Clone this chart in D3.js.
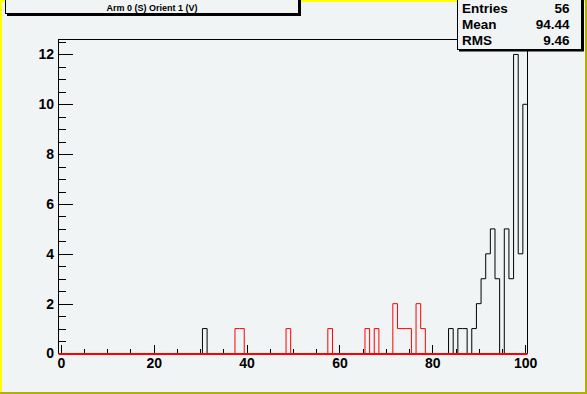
<!DOCTYPE html>
<html>
<head>
<meta charset="utf-8">
<script src="https://cdn.jsdelivr.net/npm/d3@7"></script>
<style>
  body { margin: 0; }
  svg text { font-family: "Liberation Sans", Arial, sans-serif; font-weight: bold; }
</style>
</head>
<body>
<div id="chart"></div>
<script>
// histogram contents, bin number (1 unit wide, centred on the integer) -> entries
var blackBin   = [31, 84, 86, 87, 89, 90, 91, 92, 93, 94, 96, 97, 98, 99, 100];
var blackCount = [1,  1,  1,  1,  1,  2,  3,  4,  5,  3,  5,  3,  12, 4,  10];
var redBin     = [38, 39, 49, 58, 66, 68, 72, 73, 74, 75, 77, 78];
var redCount   = [1,  1,  1,  1,  1,  1,  2,  1,  1,  1,  2,  1];

var xMajor = [0, 20, 40, 60, 80, 100];
var xMinor = [5, 10, 15, 25, 30, 35, 45, 50, 55, 65, 70, 75, 85, 90, 95];
var yMajor = [0, 2, 4, 6, 8, 10, 12];
var yMinor = [0.5, 1, 1.5, 2.5, 3, 3.5, 4.5, 5, 5.5, 6.5, 7, 7.5, 8.5, 9, 9.5, 10.5, 11, 11.5, 12.5];

var title = "Arm 0 (S) Orient 1 (V)";
var statNames  = ["Entries", "Mean", "RMS"];
var statValues = ["56", "94.44", "9.46"];

var W = 587, H = 394;
var bg = "#f1f4f5";

var svg = d3.select("#chart").append("svg")
    .attr("width", W)
    .attr("height", H);

// pad with bevelled border
svg.append("rect").attr("width", W).attr("height", H).attr("fill", "#b0b000");
svg.append("rect").attr("width", W - 2).attr("height", H - 2).attr("fill", "#ffff00");
svg.append("rect").attr("x", 2).attr("y", 2).attr("width", W - 4).attr("height", H - 4).attr("fill", bg);

var x = d3.scaleLinear().domain([-0.5, 100.5]).range([58.5, 527.5]);
var y = d3.scaleLinear().domain([0, 12.6]).range([353.5, 39.5]);

// frame
svg.append("rect")
    .attr("x", x(-0.5)).attr("y", y(12.6))
    .attr("width", x(100.5) - x(-0.5)).attr("height", y(0) - y(12.6))
    .attr("fill", "none").attr("stroke", "#000").attr("shape-rendering", "crispEdges");

// axes (ROOT style: ticks point inwards)
function noDomain(g) { g.select(".domain").remove(); }

var gx = svg.append("g").attr("transform", "translate(0," + y(0) + ")");
gx.append("g").call(d3.axisBottom(x).tickValues(xMinor).tickSize(-4.5).tickFormat("")).call(noDomain);
gx.append("g").call(d3.axisBottom(x).tickValues(xMajor).tickSize(-8.5).tickPadding(5).tickFormat(d3.format("d")))
    .call(noDomain)
    .selectAll("text").style("font-size", "14px").attr("fill", "#000");

var gy = svg.append("g").attr("transform", "translate(" + x(-0.5) + ",0)");
gy.append("g").call(d3.axisLeft(y).tickValues(yMinor).tickSize(-7).tickFormat("")).call(noDomain);
gy.append("g").call(d3.axisLeft(y).tickValues(yMajor).tickSize(-14).tickPadding(4.5).tickFormat(d3.format("d")))
    .call(noDomain)
    .selectAll("text").style("font-size", "14px").attr("fill", "#000");

svg.selectAll(".tick line").attr("stroke", "#000").attr("shape-rendering", "crispEdges");

// step outline of a histogram with 101 bins from -0.5 to 100.5
function steps(bins, counts) {
  var content = d3.range(0, 101).map(function() { return 0; });
  bins.forEach(function(b, i) { content[b] = counts[i]; });
  var pts = [[x(-0.5), y(0)]];
  content.forEach(function(v, i) {
    pts.push([x(i - 0.5), y(v)]);
    pts.push([x(i + 0.5), y(v)]);
  });
  pts.push([x(100.5), y(0)]);
  return pts;
}

var line = d3.line();

svg.append("path")
    .attr("d", line(steps(blackBin, blackCount)))
    .attr("fill", "none").attr("stroke", "#000").attr("stroke-width", 1);

svg.append("path")
    .attr("d", line(steps(redBin, redCount)))
    .attr("fill", "none").attr("stroke", "#ff0000").attr("stroke-width", 1);

// red zero line of the second histogram sits over the axis, 2px thick
svg.append("line")
    .attr("x1", x(-0.5)).attr("x2", x(100.5))
    .attr("y1", y(0) + 0.5).attr("y2", y(0) + 0.5)
    .attr("stroke", "#ff0000").attr("stroke-width", 2);

// title box with shadow
svg.append("rect").attr("x", 7).attr("y", -2).attr("width", 294).attr("height", 18).attr("fill", "#000");
svg.append("rect").attr("x", 5.5).attr("y", -2).attr("width", 293).attr("height", 15.5)
    .attr("fill", bg).attr("stroke", "#000").attr("shape-rendering", "crispEdges");
svg.append("text").attr("x", 152).attr("y", 10.5).attr("text-anchor", "middle")
    .style("font-size", "9px").text(title);

// stats box with shadow
svg.append("rect").attr("x", 459).attr("y", -2).attr("width", 125).attr("height", 53.5).attr("fill", "#000");
svg.append("rect").attr("x", 457.5).attr("y", -2).attr("width", 124).attr("height", 51.5)
    .attr("fill", bg).attr("stroke", "#000").attr("shape-rendering", "crispEdges");
statNames.forEach(function(n, i) {
  svg.append("text").attr("x", 462).attr("y", 12.5 + i * 16)
      .style("font-size", "13.5px").text(n);
  svg.append("text").attr("x", 569.5).attr("y", 12.5 + i * 16).attr("text-anchor", "end")
      .style("font-size", "13.5px").text(statValues[i]);
});
</script>
</body>
</html>
